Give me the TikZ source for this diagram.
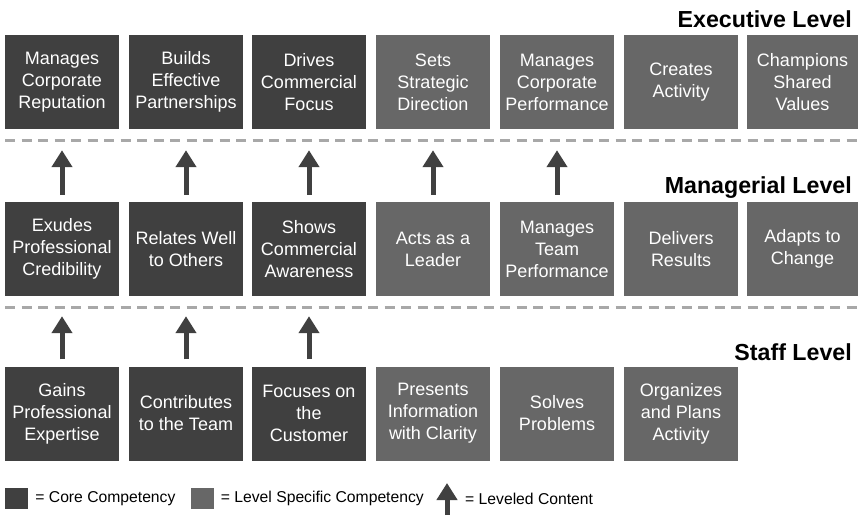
\documentclass[tikz,border=0pt]{standalone}
\usepackage{fontspec}
\setmainfont{Liberation Sans}
\usepackage{tikz}
\usetikzlibrary{arrows.meta,positioning}
\definecolor{coregray}{HTML}{404040}
\definecolor{specgray}{HTML}{676767}
\definecolor{dashgray}{HTML}{A8A8A8}
\newcommand{\boxfont}{\fontsize{18}{22}\selectfont}
\newcommand{\levelfont}{\fontsize{23.2}{27}\selectfont\bfseries}
\newcommand{\keyfont}{\fontsize{15.7}{18}\selectfont}
\tikzstyle{core}   =[rectangle, fill=coregray, text=white, minimum width=114pt,
                     minimum height=94pt, inner sep=0pt, align=center,
                     font=\boxfont]
\tikzstyle{spec}   =[core, fill=specgray]
\tikzstyle{specend}=[spec, minimum width=111pt]
\tikzstyle{level}  =[anchor=base east, inner sep=0pt, font=\levelfont]
\tikzstyle{up}     =[-{Triangle[width=20pt,length=17pt]}, line width=5pt,
                     draw=coregray]
\tikzstyle{divider}=[draw=dashgray, line width=3pt,
                     dash pattern=on 10pt off 6.5pt]
\tikzstyle{swatch} =[rectangle, inner sep=0pt, minimum width=23pt,
                     minimum height=21pt]
\tikzstyle{keytext}=[anchor=west, inner sep=0pt, font=\keyfont]

\begin{document}
\begin{tikzpicture}[x=1pt, y=-1pt]
    \useasboundingbox (0,0) rectangle (858,515);
    \foreach \i/\x/\s/\t in {1/62/core/{Manages\\Corporate\\Reputation},
                            2/186/core/{Builds\\Effective\\Partnerships},
                            3/309/core/{Drives\\Commercial\\Focus},
                            4/433/spec/{Sets\\Strategic\\Direction},
                            5/557/spec/{Manages\\Corporate\\Performance},
                            6/681/spec/{Creates\\Activity},
                            7/802.5/specend/{Champions\\Shared\\Values}}
        \node[\s] (e\i) at (\x,82) {\t};
    \foreach \i/\x/\s/\t in {1/62/core/{Exudes\\Professional\\Credibility},
                            2/186/core/{Relates Well\\to Others},
                            3/309/core/{Shows\\Commercial\\Awareness},
                            4/433/spec/{Acts as a\\Leader},
                            5/557/spec/{Manages\\Team\\Performance},
                            6/681/spec/{Delivers\\Results},
                            7/802.5/specend/{Adapts to\\Change}}
        \node[\s] (m\i) at (\x,249) {\t};
    \foreach \i/\x/\s/\t in {1/62/core/{Gains\\Professional\\Expertise},
                            2/186/core/{Contributes\\to the Team},
                            3/309/core/{Focuses on\\the\\Customer},
                            4/433/spec/{Presents\\Information\\with Clarity},
                            5/557/spec/{Solves\\Problems},
                            6/681/spec/{Organizes\\and Plans\\Activity}}
        \node[\s] (s\i) at (\x,413.5) {\t};

    \node[level] (exec) at (852,27) {Executive Level};
    \node[level] (mgr) at (852,193) {Managerial Level};
    \node[level] (staff) at (852,360) {Staff Level};

    \coordinate (d1a) at (5,140);
    \coordinate (d1b) at (858,140);
    \coordinate (d2a) at (5,307);
    \coordinate (d2b) at (858,307);
    \draw[divider] (d1a) -- (d1b);
    \draw[divider] (d2a) -- (d2b);

    \foreach \i in {1,...,5}
        \draw[up, shorten <=7pt, shorten >=21pt] (m\i.north) -- (e\i.south);
    \foreach \i in {1,...,3}
        \draw[up, shorten <=7pt, shorten >=20pt] (s\i.north) -- (m\i.south);

    \node[swatch, fill=coregray] (kcore) at (16.5,498.5) {};
    \node[keytext, right=7pt of kcore] (kcoretext) {= Core Competency};
    \node[swatch, fill=specgray] (kspec) at (202,498.5) {};
    \node[keytext, right=7pt of kspec] (kspectext) {= Level Specific Competency};
    \coordinate (kbot) at (447,515);
    \coordinate (ktop) at (447,483);
    \draw[up] (kbot) -- (ktop);
    \node[keytext] (kuptext) at (465,498.5) {= Leveled Content};
\end{tikzpicture}
\end{document}
